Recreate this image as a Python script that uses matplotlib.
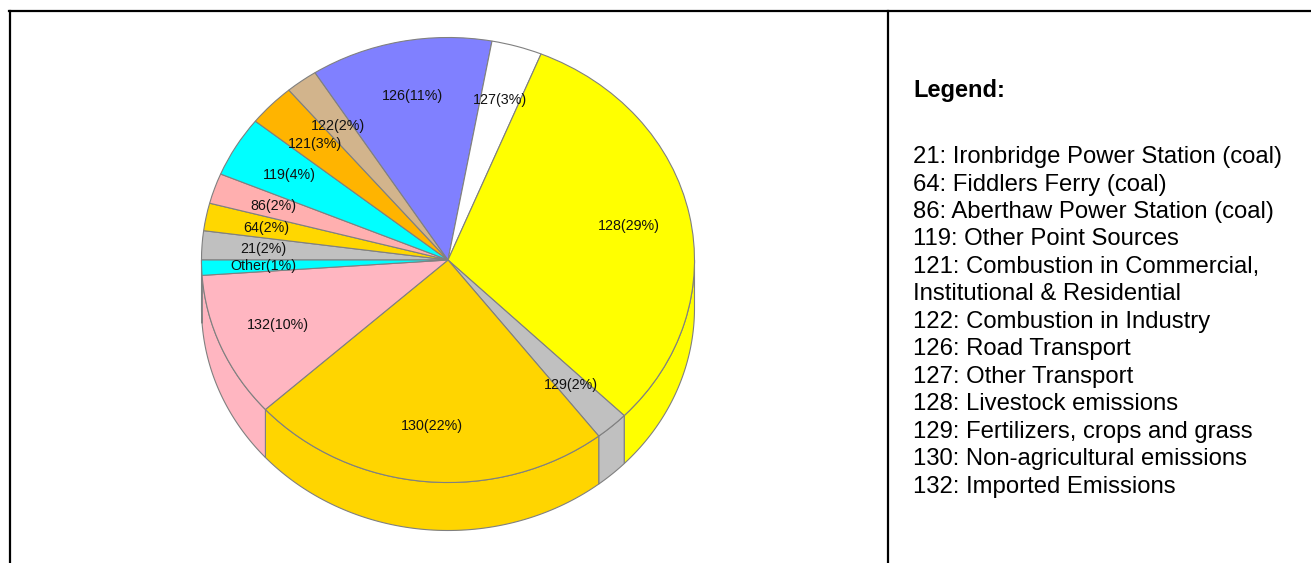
import numpy as np
import matplotlib
matplotlib.use("Agg")
import matplotlib.pyplot as plt
from matplotlib.patches import Polygon

# slices, clockwise from the 9 o'clock position
codes = ["21", "64", "86", "119", "121", "122", "126", "127", "128", "129", "130", "132", "Other"]
shares = [2.1, 2.0, 2.2, 4.4, 3.1, 2.1, 11.9, 3.3, 31.1, 2.2, 23.7, 10.6, 1.1]
pct_text = ["2%", "2%", "2%", "4%", "3%", "2%", "11%", "3%", "29%", "2%", "22%", "10%", "1%"]
colors = ["#c0c0c0", "#ffd700", "#ffafaf", "#00ffff", "#ffb400", "#d2b48c", "#8080ff",
          "#ffffff", "#ffff00", "#c0c0c0", "#ffd500", "#ffb6c1", "#00ffff"]

legend_lines = [
    "21: Ironbridge Power Station (coal)",
    "64: Fiddlers Ferry (coal)",
    "86: Aberthaw Power Station (coal)",
    "119: Other Point Sources",
    "121: Combustion in Commercial,",
    "Institutional & Residential",
    "122: Combustion in Industry",
    "126: Road Transport",
    "127: Other Transport",
    "128: Livestock emissions",
    "129: Fertilizers, crops and grass",
    "130: Non-agricultural emissions",
    "132: Imported Emissions",
]

W, H = 1311, 563
fig = plt.figure(figsize=(W / 100, H / 100), dpi=100)

# frame lines (pixel coords)
bg = fig.add_axes([0, 0, 1, 1], zorder=-1)
bg.set_xlim(0, W)
bg.set_ylim(H, 0)
bg.axis("off")
bg.plot([9, W], [11, 11], color="black", lw=1.6)
bg.plot([10, 10], [11, H], color="black", lw=1.6)
bg.plot([888, 888], [11, H], color="black", lw=1.6)

# pie geometry in pixels
cx, cy, rx, ry, depth = 448, 260, 246.5, 222.5, 48
x0, x1, y0, y1 = -1.2, 1.2, -1.3, 1.1
left = cx + x0 * rx
bottom = cy - y0 * ry
ax = fig.add_axes([left / W, (H - bottom) / H, (x1 - x0) * rx / W, (y1 - y0) * ry / H])

labels = [f"{c}({p})" for c, p in zip(codes, pct_text)]
wedges, texts = ax.pie(shares, labels=labels, colors=colors, startangle=180,
                       counterclock=False, labeldistance=0.75,
                       wedgeprops=dict(edgecolor="#808080", linewidth=0.8),
                       textprops=dict(fontsize=10.3, family="Liberation Sans", color="#111111"))
for t in texts:
    t.set_ha("center")
    t.set_va("center")

ax.set_aspect("auto")
ax.set_xlim(x0, x1)
ax.set_ylim(y0, y1)
ax.axis("off")

# side walls for the front half of the pie
d = depth / ry
for w, c in zip(wedges, colors):
    a, b = w.theta1, w.theta2
    for k in range(-2, 3):
        lo = max(a, 180 + 360 * k)
        hi = min(b, 360 + 360 * k)
        if hi > lo:
            t = np.radians(np.linspace(lo, hi, 80))
            xs, ys = np.cos(t), np.sin(t)
            pts = np.column_stack([np.r_[xs, xs[::-1]], np.r_[ys, ys[::-1] - d]])
            ax.add_patch(Polygon(pts, closed=True, facecolor=c, edgecolor="#808080",
                                 linewidth=0.8, zorder=0))

# legend text
fig.text(913 / W, 1 - 91 / H, "Legend:", fontsize=17, fontweight="bold",
         family="Liberation Sans", va="center", ha="left")
for i, line in enumerate(legend_lines):
    fig.text(913 / W, 1 - (157 + i * 27.5) / H, line, fontsize=17.2,
             family="Liberation Sans", va="center", ha="left")

fig.savefig("out.png", dpi=100)
